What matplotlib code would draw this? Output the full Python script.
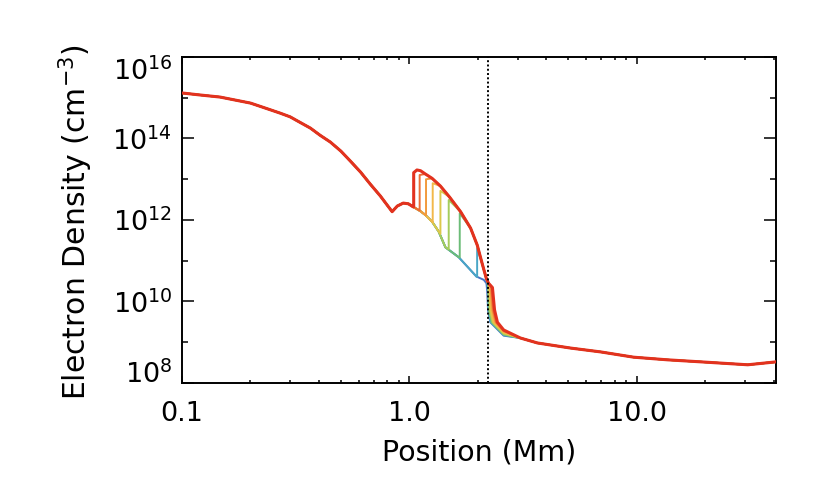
import numpy as np
import matplotlib.pyplot as plt
from matplotlib.ticker import FixedLocator, LogLocator, NullFormatter

# ---- data (position in Mm, density in cm^-3) ----
# profile shared by every run, up to the small bump near 1 Mm
left_x = [0.10, 0.12, 0.147, 0.171, 0.20, 0.232, 0.27, 0.299, 0.33, 0.367, 0.405,
          0.449, 0.50, 0.55, 0.61, 0.673, 0.745, 0.84, 0.885, 0.94, 0.99, 1.04]
left_y = [1.31e15, 1.17e15, 1.04e15, 8.8e14, 7.4e14, 5.6e14, 4.2e14, 3.4e14, 2.5e14,
          1.8e14, 1.2e14, 8.2e13, 4.9e13, 2.8e13, 1.5e13, 7.6e12, 3.9e12, 1.6e12,
          2.2e12, 2.6e12, 2.5e12, 2.1e12]

# lower (unperturbed) envelope
low_x = [1.117, 1.176, 1.259, 1.346, 1.441, 1.649, 1.973, 2.125, 2.184]
low_y = [1.66e12, 1.33e12, 9.1e11, 5.2e11, 2.14e11, 1.22e11, 4.1e10, 3.4e10, 2.8e10]

# upper envelope (last run, red)
up_x = [1.08, 1.12, 1.175, 1.26, 1.37, 1.50, 1.68, 1.86, 1.99, 2.09, 2.18, 2.23]
up_y = [1.69e13, 1.62e13, 1.35e13, 1.05e13, 6.8e12, 3.7e12, 1.6e12, 6.3e11, 2.4e11,
        8.6e10, 3.7e10, 2.8e10]

# front position of each run (blue -> red); blue has no front
jump_x = [None, 1.987, 1.666, 1.49, 1.37, 1.267, 1.184, 1.110, 1.045]
jump_lo = [None, 4.0e10, 1.2e11, 1.9e11, 4.6e11, 8.8e11, 1.3e12, 1.7e12, 2.12e12]
jump_hi = [None, 2.0e11, 1.46e12, 3.1e12, 5.2e12, 8.0e12, 1.0e13, 1.27e13, 1.45e13]

# steep drop near the transition region
drop_x = [2.20, 2.21, 2.22, 2.23, 2.24, 2.25, 2.27, 2.29, 2.32]
drop_top = [1.8e10, 2.6e10, 2.6e10, 2.6e10, 2.6e10, 2.5e10, 2.5e10, 2.4e10, 2.2e10]
bot_x = [2.22, 2.23, 2.24, 2.26, 2.28, 2.30, 2.32, 2.34, 2.37]
bot_y = [6e9, 6e9, 6e9, 6e9, 6e9, 6e9, 6e9, 6e9, 6.2e9]
knee_x = [2.27, 2.28, 2.30, 2.32, 2.34, 2.36, 2.39, 2.41, 2.44]
knee_y = [3.1e9, 3.1e9, 3.1e9, 3.1e9, 3.1e9, 3.1e9, 3.1e9, 3.1e9, 3.1e9]
y_260 = [1.45e9, 1.5e9, 1.55e9, 1.6e9, 1.7e9, 1.75e9, 1.85e9, 1.9e9, 2.0e9]

# corona, shared by every run
tail_x = [2.60, 3.08, 3.66, 5.12, 6.93, 9.7, 13.7, 19.2, 30.8, 41.0]
tail_y = [None, 1.27e9, 9.6e8, 7.2e8, 5.8e8, 4.3e8, 3.7e8, 3.3e8, 2.8e8, 3.3e8]

colors = ['#4a74c4', '#4aa6c6', '#6cbc78', '#a6cc5c', '#dcc84a',
          '#f2b84a', '#f29a3c', '#ec6c34', '#e2321f']

xline = 2.22

plt.rcParams['font.family'] = ['DejaVu Sans']

fig = plt.figure(figsize=(8.3, 4.98), dpi=100)
ax = fig.add_axes([182 / 830, 1 - 383 / 498, 594 / 830, 326 / 498])

for i, c in enumerate(colors):
    xs = list(left_x)
    ys = list(left_y)
    if jump_x[i] is None:
        xs += low_x
        ys += low_y
    else:
        for px, py in zip(low_x, low_y):
            if px < jump_x[i]:
                xs.append(px)
                ys.append(py)
        xs += [jump_x[i], jump_x[i]]
        ys += [jump_lo[i], jump_hi[i]]
        for px, py in zip(up_x, up_y):
            if jump_x[i] * 1.03 < px < drop_x[i]:
                xs.append(px)
                ys.append(py)
    xs += [drop_x[i], bot_x[i], knee_x[i], tail_x[0]]
    ys += [drop_top[i], bot_y[i], knee_y[i], y_260[i]]
    xs += tail_x[1:]
    ys += tail_y[1:]
    lw = 2.2 if i == len(colors) - 1 else 1.4
    ax.plot(xs, ys, color=c, lw=lw, solid_joinstyle='round', zorder=2 + i)

ax.axvline(xline, color='black', lw=1.4, ls=(0, (1, 1.2)), zorder=20)

ax.set_xscale('log')
ax.set_yscale('log')
ax.set_xlim(0.1, 41.0)
ax.set_ylim(1e8, 1e16)

fs = 19.5
ax.xaxis.set_major_locator(FixedLocator([0.1, 1.0, 10.0]))
ax.set_xticklabels(['0.1', '1.0', '10.0'])
ax.xaxis.set_minor_locator(LogLocator(base=10, subs=np.arange(2, 10)))
ax.xaxis.set_minor_formatter(NullFormatter())
ax.yaxis.set_major_locator(FixedLocator([1e8, 1e10, 1e12, 1e14, 1e16]))
ax.set_yticklabels([r'$\mathdefault{10^{8}}$', r'$\mathdefault{10^{10}}$',
                    r'$\mathdefault{10^{12}}$', r'$\mathdefault{10^{14}}$',
                    r'$\mathdefault{10^{16}}$'])
ax.yaxis.set_minor_locator(FixedLocator([1e9, 1e11, 1e13, 1e15]))
ax.yaxis.set_minor_formatter(NullFormatter())

ax.tick_params(which='both', direction='in', top=True, right=True, width=1.1,
               labelsize=fs, colors='black')
ax.tick_params(axis='y', which='major', length=8.6, pad=7)
ax.tick_params(axis='y', which='minor', length=4.3)
ax.tick_params(axis='x', which='major', length=5, pad=13)
ax.tick_params(axis='x', which='minor', length=2.5)

yl = ax.get_yticklabels()
yl[0].set_va('baseline')
yl[-1].set_va('top')

for s in ax.spines.values():
    s.set_linewidth(1.4)

ax.set_xlabel('Position (Mm)', fontsize=20.5, labelpad=8)
fig.text(76 / 830, 1 - 222 / 498, 'Electron Density (cm$^{-3}$)', rotation=90,
         ha='center', va='center', fontsize=21.5)

fig.savefig('out.png', dpi=100)
